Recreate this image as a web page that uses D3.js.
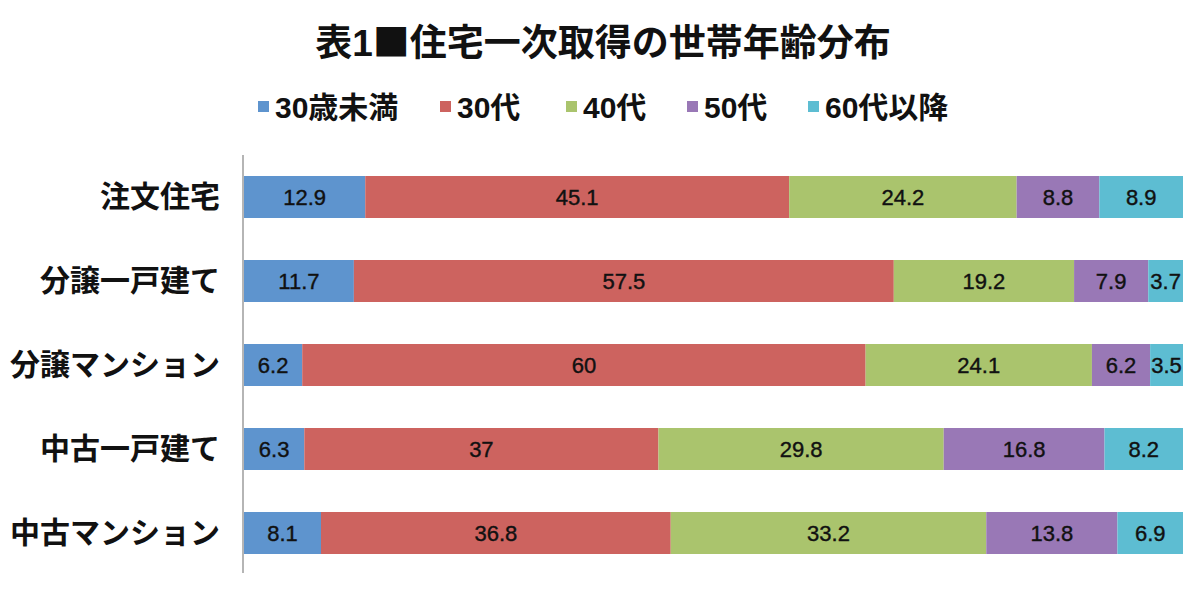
<!DOCTYPE html>
<html>
<head>
<meta charset="utf-8">
<script src="https://cdn.jsdelivr.net/npm/d3@7"></script>
<style>
  body { margin: 0; background: #fff; }
</style>
</head>
<body>
<div id="chart"></div>
<script>
// data
var categories = ['注文住宅', '分譲一戸建て', '分譲マンション', '中古一戸建て', '中古マンション'];
var seriesNames = ['30歳未満', '30代', '40代', '50代', '60代以降'];
var under30 = [12.9, 11.7, 6.2, 6.3, 8.1];
var age30s = [45.1, 57.5, 60, 37, 36.8];
var age40s = [24.2, 19.2, 24.1, 29.8, 33.2];
var age50s = [8.8, 7.9, 6.2, 16.8, 13.8];
var age60plus = [8.9, 3.7, 3.5, 8.2, 6.9];
var colors = ['#5e94ce', '#cd635f', '#aac46d', '#9978b6', '#5dbdd2'];

var attrs = {
  svgWidth: 1200,
  svgHeight: 597,
  marginLeft: 244,
  marginRight: 17,
  marginTop: 155,
  marginBottom: 22,
  fontFamily: '"Liberation Sans", "Noto Sans CJK JP", sans-serif'
};

var calc = {};
calc.chartWidth = attrs.svgWidth - attrs.marginLeft - attrs.marginRight;
calc.chartHeight = attrs.svgHeight - attrs.marginTop - attrs.marginBottom;

// build rows, 100% stacked
var seriesValues = [under30, age30s, age40s, age50s, age60plus];
var rows = categories.map(function (c, i) {
  var row = { category: c };
  seriesNames.forEach(function (s, j) { row[s] = seriesValues[j][i]; });
  return row;
});

var stacked = d3.stack()
  .keys(seriesNames)
  .offset(d3.stackOffsetExpand)(rows);

var x = d3.scaleLinear().domain([0, 1]).range([0, calc.chartWidth]);
var y = d3.scaleBand()
  .domain(categories)
  .range([0, calc.chartHeight])
  .paddingInner(0.5)
  .paddingOuter(0.25);

var color = d3.scaleOrdinal().domain(seriesNames).range(colors);

var svg = d3.select('#chart')
  .append('svg')
  .attr('width', attrs.svgWidth)
  .attr('height', attrs.svgHeight)
  .attr('font-family', attrs.fontFamily);

// title (the square uses the CJK font so it is full width)
var title = svg.append('text')
  .attr('x', 603)
  .attr('y', 56)
  .attr('text-anchor', 'middle')
  .attr('font-size', 37)
  .attr('font-weight', 'bold')
  .attr('fill', '#111');
title.append('tspan').text('表1');
title.append('tspan').attr('font-family', '"Noto Sans CJK JP", sans-serif').text('■');
title.append('tspan').text('住宅一次取得の世帯年齢分布');

// legend
var legendX = [258, 440, 566, 687, 808];
var legend = svg.append('g')
  .selectAll('g')
  .data(seriesNames)
  .enter()
  .append('g')
  .attr('transform', function (d, i) { return 'translate(' + legendX[i] + ',107)'; });

legend.append('rect')
  .attr('x', 0)
  .attr('y', -6)
  .attr('width', 11)
  .attr('height', 11)
  .attr('fill', function (d) { return color(d); });

legend.append('text')
  .attr('x', 17)
  .attr('y', 11)
  .attr('font-size', 30)
  .attr('font-weight', 'bold')
  .attr('fill', '#111')
  .text(function (d) { return d; });

var chart = svg.append('g')
  .attr('transform', 'translate(' + attrs.marginLeft + ',' + attrs.marginTop + ')');

// bars
var layers = chart.selectAll('.layer')
  .data(stacked)
  .enter()
  .append('g')
  .attr('class', 'layer')
  .attr('fill', function (d) { return color(d.key); });

layers.selectAll('rect')
  .data(function (d) { return d; })
  .enter()
  .append('rect')
  .attr('x', function (d) { return x(d[0]); })
  .attr('y', function (d) { return y(d.data.category); })
  .attr('width', function (d) { return x(d[1]) - x(d[0]); })
  .attr('height', y.bandwidth());

// value labels
layers.each(function (layer) {
  d3.select(this).selectAll('text')
    .data(layer)
    .enter()
    .append('text')
    .attr('x', function (d) { return (x(d[0]) + x(d[1])) / 2; })
    .attr('y', function (d) { return y(d.data.category) + y.bandwidth() / 2; })
    .attr('dy', '0.36em')
    .attr('text-anchor', 'middle')
    .attr('font-size', 22)
    .attr('fill', '#111')
    .attr('stroke', '#111')
    .attr('stroke-width', 0.4)
    .text(function (d) { return d.data[layer.key]; });
});

// y axis
var yAxis = chart.append('g')
  .call(d3.axisLeft(y).tickSize(0).tickPadding(24));

yAxis.select('.domain')
  .attr('stroke', '#b5b5b5')
  .attr('stroke-width', 2)
  .attr('d', 'M-1,0V' + (calc.chartHeight - 2));

yAxis.selectAll('text')
  .attr('font-size', 30)
  .attr('font-weight', 'bold')
  .attr('font-family', attrs.fontFamily)
  .attr('fill', '#111');
</script>
</body>
</html>
